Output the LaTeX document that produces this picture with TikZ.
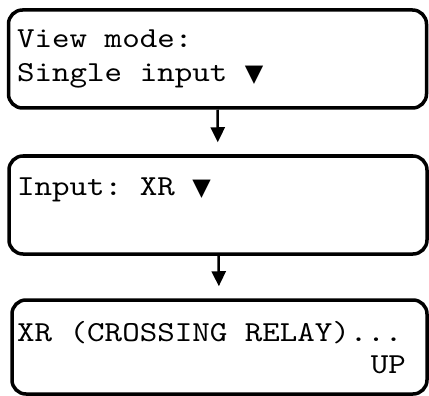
\documentclass[tikz,border=0pt]{standalone}
\usepackage{fontspec}
\setmonofont{lmmono10-regular.otf}[FakeStretch=1.15]
\newfontfamily\symfont{DejaVu Sans}
\usetikzlibrary{positioning,arrows.meta}

\newcommand{\dn}{{\symfont\fontsize{24}{34}\selectfont ▼}}

\begin{document}
\begin{tikzpicture}[x=1pt,y=1pt,
    screen/.style={draw,line width=3.5pt,rounded corners=14pt,minimum width=418pt,minimum height=98pt,inner sep=0pt},
    lcd/.style={font=\ttfamily\fontsize{29}{34}\selectfont,inner sep=0pt,anchor=base west},
    flow/.style={line width=2.5pt,-{Triangle[length=15pt,width=14pt]},shorten >=12pt}]
    \useasboundingbox (0,0) rectangle (429,-396);

    \node[screen] (1) at (217.5,-59) {};
    \node[screen] (2) at (218,-205) {};
    \node[screen,minimum width=415pt,minimum height=94pt] (3) at (219.5,-347) {};

    \node[lcd] (1a) at (17,-48) {View mode:};
    \node[lcd] (1b) at (17,-82) {Single input \dn};
    \node[lcd] (2a) at (17,-195) {Input: XR \dn};
    \node[lcd] (3a) at (17,-341) {XR (CROSSING RELAY)...};
    \node[lcd,anchor=base east] (3b) at (406,-373) {UP};

    \draw[flow] (1) -- (2);
    \draw[flow] (2) -- (3);
\end{tikzpicture}
\end{document}
